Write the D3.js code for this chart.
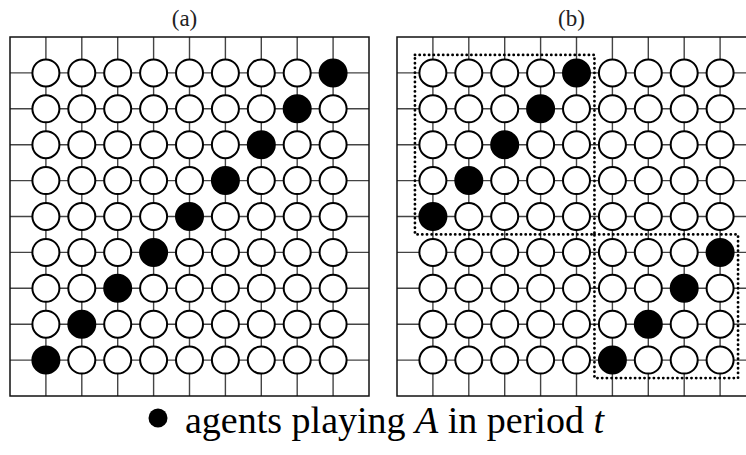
<!DOCTYPE html>
<html>
<head>
<meta charset="utf-8">
<script src="https://cdn.jsdelivr.net/npm/d3@7"></script>
<style>
  body { margin: 0; background: #fff; }
</style>
</head>
<body>
<div id="chart"></div>
<script>
const WIDTH = 746
const HEIGHT = 455

// data
const gridSize = 9
const panelLabels = ["(a)", "(b)"]
// column of the black agent for each row (row 0 = top)
const blackA = [8, 7, 6, 5, 4, 3, 2, 1, 0]
const blackB = [4, 3, 2, 1, 0, 8, 7, 6, 5]
// dotted neighbourhoods in panel (b): [col0, col1, row0, row1]
const groupsB = [[0, 4, 0, 4], [5, 8, 5, 8]]
const legendText = "agents playing "

const panels = [
    { label: panelLabels[0], black: blackA, groups: [], x0: 10 },
    { label: panelLabels[1], black: blackB, groups: groupsB, x0: 397 }
]

const svg = d3.select("#chart")
    .append("svg")
    .attr("width", WIDTH)
    .attr("height", HEIGHT)

const idx = d3.range(gridSize)

panels.forEach(p => {
    const x = d3.scaleLinear().domain([-1, gridSize]).range([p.x0, p.x0 + 359])
    const y = d3.scaleLinear().domain([-1, gridSize]).range([37, 396])
    const g = svg.append("g")

    // title
    g.append("text")
        .attr("x", x(4) - 5)
        .attr("y", 26)
        .attr("text-anchor", "middle")
        .attr("fill", "#222")
        .style("font-family", "'Liberation Serif', serif")
        .style("font-size", "23px")
        .text(p.label)

    // grid lines
    g.selectAll(".v").data(idx).enter().append("line")
        .attr("x1", d => x(d)).attr("x2", d => x(d))
        .attr("y1", y(-1)).attr("y2", y(gridSize))
        .attr("stroke", "#444").attr("stroke-width", 1.4)
    g.selectAll(".h").data(idx).enter().append("line")
        .attr("y1", d => y(d)).attr("y2", d => y(d))
        .attr("x1", x(-1)).attr("x2", x(gridSize))
        .attr("stroke", "#444").attr("stroke-width", 1.4)

    // frame
    g.append("rect")
        .attr("x", x(-1)).attr("y", y(-1))
        .attr("width", x(gridSize) - x(-1))
        .attr("height", y(gridSize) - y(-1))
        .attr("fill", "none").attr("stroke", "#111").attr("stroke-width", 1.5)

    // agents
    const cells = []
    idx.forEach(r => idx.forEach(c => cells.push({ r: r, c: c, on: p.black[r] === c })))
    g.selectAll("circle").data(cells).enter().append("circle")
        .attr("cx", d => x(d.c))
        .attr("cy", d => y(d.r))
        .attr("r", 13.5)
        .attr("fill", d => d.on ? "#000" : "#fff")
        .attr("stroke", "#000")
        .attr("stroke-width", 2)

    // dotted groups
    g.selectAll(".grp").data(p.groups).enter().append("rect")
        .attr("x", d => x(d[0] - 0.5))
        .attr("y", d => y(d[2] - 0.5))
        .attr("width", d => x(d[1] + 0.5) - x(d[0] - 0.5))
        .attr("height", d => y(d[3] + 0.5) - y(d[2] - 0.5))
        .attr("fill", "none")
        .attr("stroke", "#000")
        .attr("stroke-width", 2.8)
        .attr("stroke-dasharray", "0.1,4.6")
        .attr("stroke-linecap", "round")
})

// legend
svg.append("circle")
    .attr("cx", 158).attr("cy", 418).attr("r", 9.5)
    .attr("fill", "#000")

const lt = svg.append("text")
    .attr("x", 185)
    .attr("y", 433)
    .style("font-family", "'Liberation Serif', serif")
    .style("font-size", "38px")
lt.append("tspan").text(legendText)
lt.append("tspan").style("font-style", "italic").text("A")
lt.append("tspan").text(" in period ")
lt.append("tspan").style("font-style", "italic").text("t")
</script>
</body>
</html>
